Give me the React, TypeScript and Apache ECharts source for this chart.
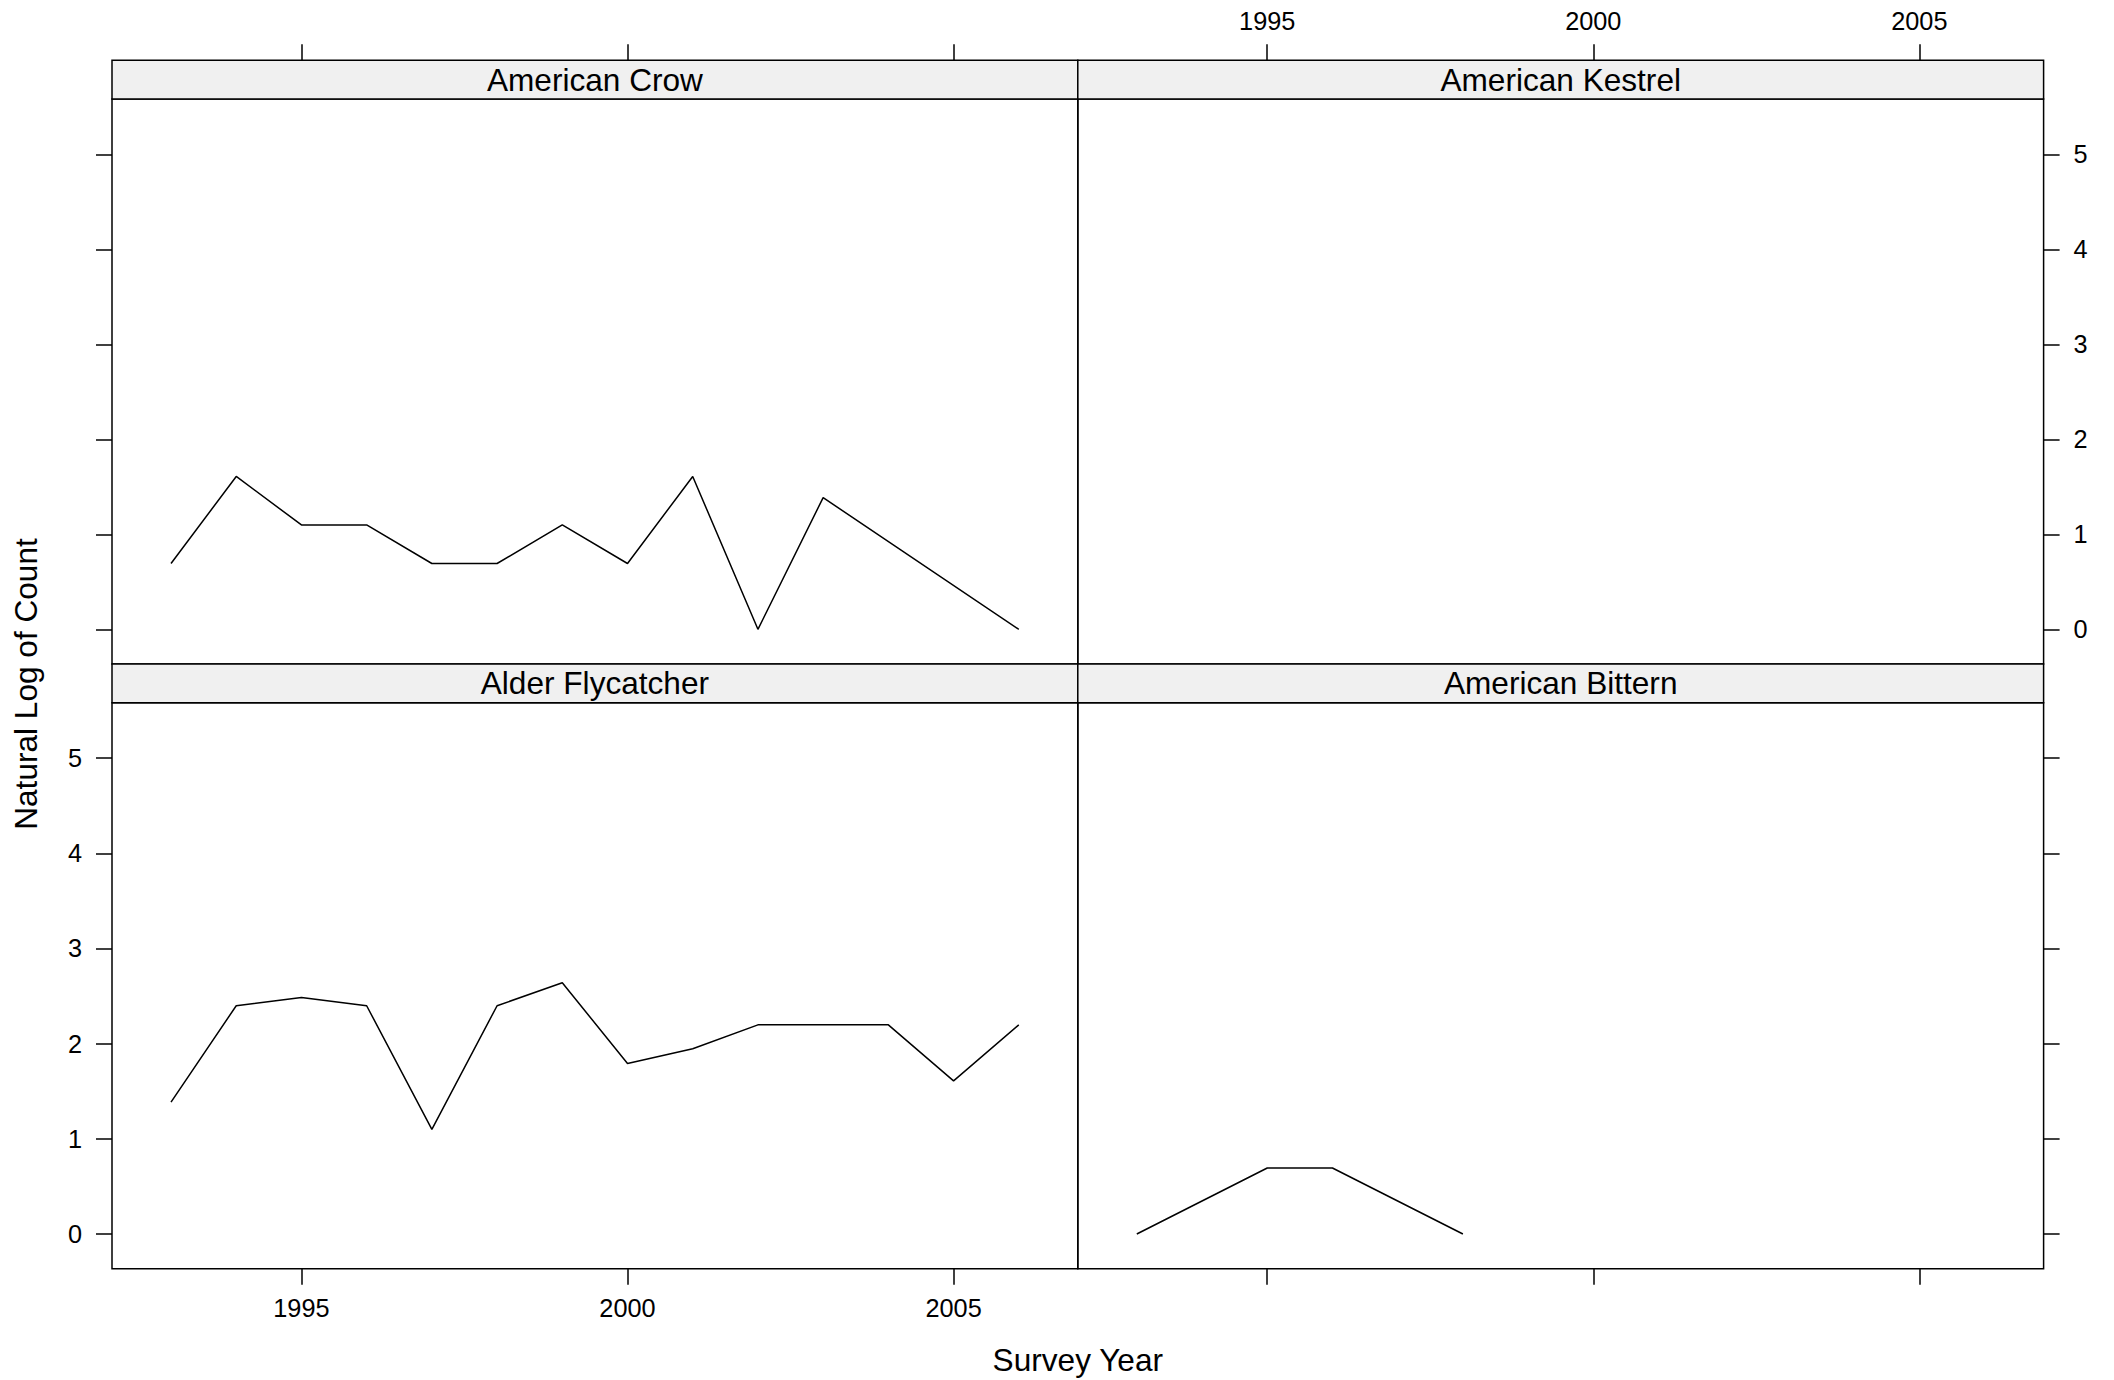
import React, { useEffect, useRef } from "react";
import * as echarts from "echarts";

// ---- data (natural log of counts) ----
const crowYears = [1993, 1994, 1995, 1996, 1997, 1998, 1999, 2000, 2001, 2002, 2003, 2006];
const crowValues = [0.693, 1.609, 1.099, 1.099, 0.693, 0.693, 1.099, 0.693, 1.609, 0, 1.386, 0];

const kestrelYears: number[] = [];
const kestrelValues: number[] = [];

const flycatcherYears = [1993, 1994, 1995, 1996, 1997, 1998, 1999, 2000, 2001, 2002, 2003, 2004, 2005, 2006];
const flycatcherValues = [1.386, 2.398, 2.485, 2.398, 1.099, 2.398, 2.639, 1.792, 1.946, 2.197, 2.197, 2.197, 1.609, 2.197];

const bitternYears = [1993, 1995, 1996, 1998];
const bitternValues = [0, 0.693, 0.693, 0];

const xTicks = [1995, 2000, 2005];
const yTicks = [0, 1, 2, 3, 4, 5];

const xTitle = "Survey Year";
const yTitle = "Natural Log of Count";

// ---- layout ----
const FONT = '"Liberation Sans", Arial, Helvetica, sans-serif';
const X_MIN = 1992.095;
const X_MAX = 2006.905;
const Y_MIN = -0.365;
const Y_MAX = 5.582;
const PANEL_W = 965.8;
const STRIP_H = 38.7;
const TICK_LEN = 16;
const LABEL_SIZE = 25.3;
const TITLE_SIZE = 31.6;

type Panel = {
  name: string;
  years: number[];
  values: number[];
  left: number;
  top: number;
  height: number;
  xPos: "top" | "bottom";
  yPos: "left" | "right";
  xLabels: boolean;
  yLabels: boolean;
};

const panels: Panel[] = [
  { name: "American Crow", years: crowYears, values: crowValues, left: 112, top: 99, height: 565, xPos: "top", yPos: "left", xLabels: false, yLabels: false },
  { name: "American Kestrel", years: kestrelYears, values: kestrelValues, left: 112 + PANEL_W, top: 99, height: 565, xPos: "top", yPos: "right", xLabels: true, yLabels: true },
  { name: "Alder Flycatcher", years: flycatcherYears, values: flycatcherValues, left: 112, top: 702.7, height: 566, xPos: "bottom", yPos: "left", xLabels: true, yLabels: true },
  { name: "American Bittern", years: bitternYears, values: bitternValues, left: 112 + PANEL_W, top: 702.7, height: 566, xPos: "bottom", yPos: "right", xLabels: false, yLabels: false },
];

export default function App() {
  const ref = useRef<HTMLDivElement>(null);

  useEffect(() => {
    if (!ref.current) return;
    const chart = echarts.init(ref.current, undefined, { renderer: "svg" });

    const lineStyle = { color: "#000", width: 1.5 };

    const grids = panels.map((p) => ({
      left: p.left,
      top: p.top,
      width: PANEL_W,
      height: p.height,
      show: true,
      borderColor: "#000",
      borderWidth: 1.5,
      backgroundColor: "transparent",
      containLabel: false,
    }));

    const xAxes = panels.map((p, i) => ({
      type: "value",
      gridIndex: i,
      position: p.xPos,
      offset: p.xPos === "top" ? STRIP_H : 0,
      min: X_MIN,
      max: X_MAX,
      axisLine: { show: false, onZero: false },
      splitLine: { show: false },
      axisTick: { show: true, inside: false, length: TICK_LEN, lineStyle, customValues: xTicks },
      axisLabel: {
        show: p.xLabels,
        customValues: xTicks,
        margin: 27,
        color: "#000",
        fontFamily: FONT,
        fontSize: LABEL_SIZE,
        formatter: (v: number) => String(v),
      },
    }));

    const yAxes = panels.map((p, i) => ({
      type: "value",
      gridIndex: i,
      position: p.yPos,
      min: Y_MIN,
      max: Y_MAX,
      axisLine: { show: false, onZero: false },
      splitLine: { show: false },
      axisTick: { show: true, inside: false, length: TICK_LEN, lineStyle, customValues: yTicks },
      axisLabel: {
        show: p.yLabels,
        customValues: yTicks,
        margin: 30,
        color: "#000",
        fontFamily: FONT,
        fontSize: LABEL_SIZE,
        formatter: (v: number) => String(v),
      },
    }));

    const series = panels.map((p, i) => ({
      type: "line",
      name: p.name,
      xAxisIndex: i,
      yAxisIndex: i,
      showSymbol: false,
      symbol: "none",
      lineStyle: { color: "#000", width: 1.5 },
      data: p.years.map((y, k) => [y, p.values[k]]),
    }));

    const strips: any[] = [];
    panels.forEach((p) => {
      strips.push({
        type: "rect",
        shape: { x: p.left, y: p.top - STRIP_H, width: PANEL_W, height: STRIP_H },
        style: { fill: "#f0f0f0", stroke: "#000", lineWidth: 1.5 },
        z: 10,
      });
      strips.push({
        type: "text",
        x: p.left + PANEL_W / 2,
        y: p.top - STRIP_H / 2,
        style: {
          text: p.name,
          fill: "#000",
          font: `${TITLE_SIZE}px ${FONT}`,
          align: "center",
          verticalAlign: "middle",
        },
        z: 11,
      });
    });

    strips.push({
      type: "text",
      x: 112 + PANEL_W,
      y: 1360,
      style: {
        text: xTitle,
        fill: "#000",
        font: `${TITLE_SIZE}px ${FONT}`,
        align: "center",
        verticalAlign: "middle",
      },
    });
    strips.push({
      type: "text",
      x: 26,
      y: 684,
      rotation: Math.PI / 2,
      style: {
        text: yTitle,
        fill: "#000",
        font: `${TITLE_SIZE}px ${FONT}`,
        align: "center",
        verticalAlign: "middle",
      },
    });

    chart.setOption({
      animation: false,
      backgroundColor: "#fff",
      textStyle: { fontFamily: FONT },
      grid: grids,
      xAxis: xAxes,
      yAxis: yAxes,
      series,
      graphic: { elements: strips },
    });

    return () => chart.dispose();
  }, []);

  return (
    <div
      ref={ref}
      style={{ position: "fixed", left: 0, top: 0, width: 2114, height: 1380, background: "#fff" }}
    />
  );
}
